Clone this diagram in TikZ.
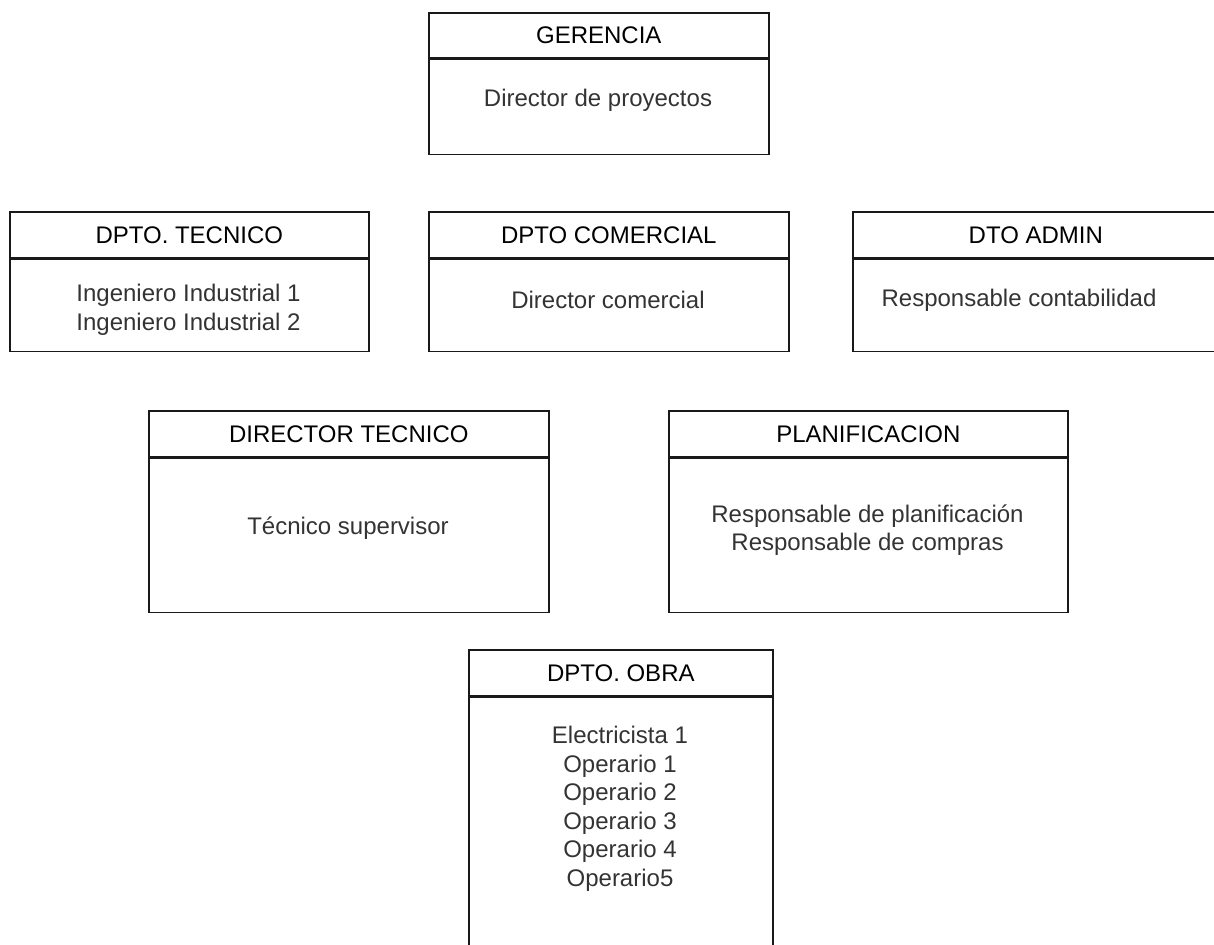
\documentclass[tikz,border=0pt]{standalone}
\usepackage{fontspec}
\setmainfont{Liberation Sans}
\begin{document}
\begin{tikzpicture}[x=1pt,y=-1pt,
  frame/.style={draw=black!90, line width=1.6pt, inner sep=0pt, anchor=north west},
  head/.style={frame, font=\fontsize{24}{28.5}\selectfont, text=black},
  body/.style={inner sep=0pt, align=center, font=\fontsize{24}{28.5}\selectfont, text=black!80}]
\useasboundingbox (0,0) rectangle (1214,944);

% GERENCIA
\node[head, minimum width=340, minimum height=45] (gerH) at (428,12) {GERENCIA};
\node[frame, minimum width=340, minimum height=95] (gerB) at (gerH.south west) {};
\node[body] (gerT) at (598,100) {Director de proyectos};

% DPTO. TECNICO
\node[head, minimum width=359, minimum height=46] (tecH) at (9,211) {DPTO. TECNICO};
\node[frame, minimum width=359, minimum height=92] (tecB) at (tecH.south west) {};
\node[body] (tecT) at (188.5,310) {Ingeniero Industrial 1\\Ingeniero Industrial 2};

% DPTO COMERCIAL
\node[head, minimum width=360, minimum height=46] (comH) at (428,211) {DPTO COMERCIAL};
\node[frame, minimum width=360, minimum height=92] (comB) at (comH.south west) {};
\node[body] (comT) at (608,300) {Director comercial};

% DTO ADMIN (runs past the right edge)
\node[head, minimum width=366, minimum height=46] (admH) at (852,211) {DTO ADMIN};
\node[frame, minimum width=366, minimum height=92] (admB) at (admH.south west) {};
\node[body] (admT) at (1019,300) {Responsable contabilidad};

% DIRECTOR TECNICO
\node[head, minimum width=400, minimum height=46] (dirH) at (148,410) {DIRECTOR TECNICO};
\node[frame, minimum width=400, minimum height=154] (dirB) at (dirH.south west) {};
\node[body] (dirT) at (348,528) {Técnico supervisor};

% PLANIFICACION
\node[head, minimum width=399, minimum height=46] (plaH) at (668,410) {PLANIFICACION};
\node[frame, minimum width=399, minimum height=154] (plaB) at (plaH.south west) {};
\node[body] (plaT) at (867.5,530) {Responsable de planificación\\Responsable de compras};

% DPTO. OBRA (runs past the bottom edge)
\node[head, minimum width=304, minimum height=46] (obrH) at (468,649) {DPTO. OBRA};
\node[frame, minimum width=304, minimum height=280] (obrB) at (obrH.south west) {};
\node[body] (obrT) at (620,809) {Electricista 1\\Operario 1\\Operario 2\\Operario 3\\Operario 4\\Operario5};
\end{tikzpicture}
\end{document}
